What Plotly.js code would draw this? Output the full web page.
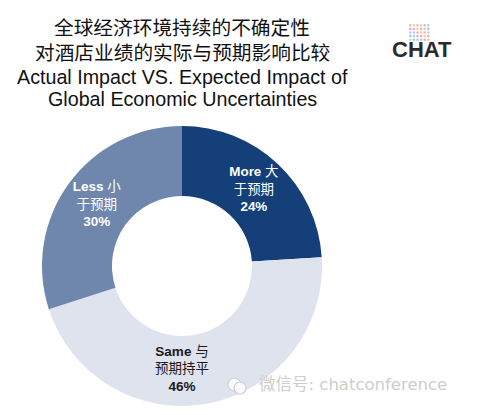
<!DOCTYPE html>
<html>
<head>
<meta charset="utf-8">
<script src="https://cdn.plot.ly/plotly-3.0.1.min.js"></script>
<style>html,body{margin:0;padding:0;background:#fff}#chart{width:479px;height:415px}</style>
</head>
<body>
<div id="chart"></div>
<script>
// ---- data ----
const categories = ['More', 'Same', 'Less'];
const categoryCN = ['大<br>于预期', '与<br>预期持平', '小<br>于预期'];
const shares = [24, 46, 30];
const sliceColors = ['#143f79', '#dfe3ee', '#7087ad'];
const textColors = ['#ffffff', '#1a1a1a', '#ffffff'];
const titleLines = ['全球经济环境持续的不确定性', '对酒店业绩的实际与预期影响比较',
                    'Actual Impact VS. Expected Impact of', 'Global Economic Uncertainties'];
const logoText = 'CHAT';
const watermark = '微信号: chatconference';

const W = 479, H = 415;
const cx = 182, cy = 266, R = 140;
const labelFont = 'Liberation Sans, Arial, Noto Sans CJK SC, sans-serif';
const domain = { x: [(cx - R) / W, (cx + R) / W], y: [(H - cy - R) / H, (H - cy + R) / H] };

const labelText = categories.map((c, i) =>
  '<b>' + c + '</b> ' + categoryCN[i] + '<br><b>' + shares[i] + '%</b>');
// slices drawn horizontally-labelled by the main trace; the "Less" label is
// carried by an overlaid transparent copy of the same pie
const horizontalIdx = [0, 1];

const mainTrace = {
  type: 'pie',
  values: shares,
  labels: categories,
  text: labelText.map((t, i) => horizontalIdx.includes(i) ? t : ''),
  textinfo: 'text',
  hoverinfo: 'none',
  sort: false,
  direction: 'clockwise',
  rotation: 0,
  hole: 0.5,
  marker: { colors: sliceColors, line: { width: 0 } },
  textposition: 'inside',
  insidetextorientation: 'horizontal',
  insidetextfont: { family: labelFont, size: 13.5, color: textColors },
  domain: domain,
  showlegend: false
};
const labelTrace = {
  type: 'pie',
  values: shares,
  labels: categories,
  text: labelText.map((t, i) => horizontalIdx.includes(i) ? '' : t),
  textinfo: 'text',
  hoverinfo: 'none',
  sort: false,
  direction: 'clockwise',
  rotation: 0,
  hole: 0.5,
  marker: { colors: categories.map(() => 'rgba(0,0,0,0)'), line: { width: 0 } },
  textposition: 'inside',
  insidetextfont: { family: labelFont, size: 13.5, color: textColors },
  domain: domain,
  showlegend: false
};

// decorative logo dots
const dotPalette = ['#e89bb5', '#8fc9d9', '#b9d77e', '#f2c57c', '#c7a3d9', '#9ab8e0', '#e5a0a0'];
const shapes = [];
let k = 0;
for (let r = 0; r < 5; r++) {
  for (let c = 0; c < 6; c++) {
    const x0 = 409 + c * 3.6, y0 = 24 + r * 3.6;
    shapes.push({ type: 'circle', xref: 'paper', yref: 'paper',
      x0: x0 / W, x1: (x0 + 2.6) / W, y0: 1 - (y0 + 2.6) / H, y1: 1 - y0 / H,
      fillcolor: dotPalette[k % dotPalette.length], line: { width: 0 }, opacity: 0.8 });
    k += 3;
  }
}
// wechat icon bubbles
shapes.push({ type: 'circle', xref: 'paper', yref: 'paper',
  x0: 228 / W, x1: 241 / W, y0: 1 - 391 / H, y1: 1 - 378 / H,
  line: { color: '#d0d0d0', width: 1.2 }, fillcolor: 'rgba(255,255,255,0.8)' });
shapes.push({ type: 'circle', xref: 'paper', yref: 'paper',
  x0: 234 / W, x1: 246 / W, y0: 1 - 394 / H, y1: 1 - 382 / H,
  line: { color: '#d0d0d0', width: 1.2 }, fillcolor: 'rgba(255,255,255,0.8)' });

const titleY = [28, 53, 76.5, 99.5];
const annotations = titleLines.map((t, i) => ({
  text: t, xref: 'paper', yref: 'paper', x: cx / W, y: 1 - titleY[i] / H,
  xanchor: 'center', yanchor: 'middle', showarrow: false,
  font: { family: labelFont, size: 19.7, color: '#111111' }
}));
annotations.push(
  { text: '<b>' + logoText + '</b>', xref: 'paper', yref: 'paper', x: 422 / W, y: 1 - 50 / H,
    xanchor: 'center', yanchor: 'middle', showarrow: false,
    font: { family: 'Liberation Sans, Arial, sans-serif', size: 22, color: '#2b2b2b' } },
  { text: watermark, xref: 'paper', yref: 'paper', x: 257 / W, y: 1 - 384 / H,
    xanchor: 'left', yanchor: 'middle', showarrow: false,
    font: { family: 'DejaVu Sans, Noto Sans CJK SC, sans-serif', size: 16.5, color: '#cdcdcd' } }
);

const layout = {
  width: W, height: H,
  margin: { l: 0, r: 0, t: 0, b: 0 },
  paper_bgcolor: '#ffffff',
  shapes: shapes,
  annotations: annotations
};

Plotly.newPlot('chart', [mainTrace, labelTrace], layout, { displayModeBar: false, staticPlot: true });
</script>
</body>
</html>
